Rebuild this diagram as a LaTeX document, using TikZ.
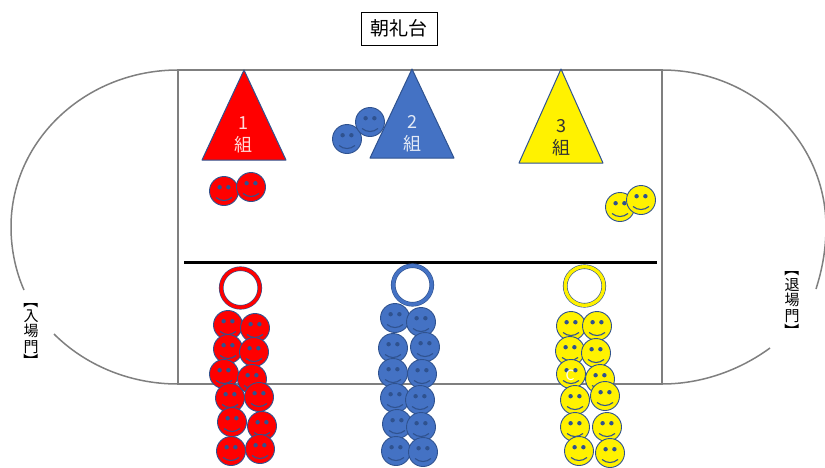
\documentclass[tikz,border=0pt]{standalone}
\usepackage{fontspec}
\setmainfont{Noto Sans CJK JP}
\usetikzlibrary{positioning}
\definecolor{facerblue}{HTML}{4472C4}
\definecolor{edgeblue}{HTML}{2F528F}
\definecolor{trackgray}{HTML}{7F7F7F}
\tikzset{
    track/.style={draw=trackgray, line width=1.5pt},
    flag/.style={draw=edgeblue, line width=1pt, line join=round},
    flagtext/.style={align=center, font=\fontsize{18}{18}\selectfont, inner sep=0pt},
    ringmark/.style={draw=edgeblue, fill=white, line width=0.6pt, double distance=3.4pt, minimum size=38.6pt, circle, inner sep=0pt},
    sidechar/.style={font=\fontsize{15}{15}\selectfont, inner sep=0pt},
    pics/smiley/.style={code={
        \draw[edgeblue, line width=0.9pt, fill=#1] (0,0) circle (14.5);
        \fill[edgeblue] (-4.4,-3.8) circle (2.2) (4.4,-3.8) circle (2.2);
        \draw[edgeblue, line width=1.1pt] (-8,6.5) .. controls (-3,10.5) and (3,10.5) .. (8,6.5);
    }}
}
\begin{document}
\begin{tikzpicture}[x=1pt, y=-1pt]
    \useasboundingbox (0,0) rectangle (825,467);
    \node[draw, line width=0.7pt, minimum width=76pt, minimum height=33pt, inner sep=0pt, font=\fontsize{19}{19}\selectfont] (stage) at (399,28.5) {朝礼台};

    % track
    \draw[track] (178,70) rectangle (662,384);
    \draw[track] (178,70) .. controls (86,70) and (11,140) .. (11,227) .. controls (11,250) and (16,272) .. (24,290);
    \draw[track] (54,334) .. controls (84,364) and (128,384) .. (178,384);
    \draw[track] (662,70) .. controls (752,70) and (826,140) .. (826,227) .. controls (826,250) and (822,270) .. (816,289);
    \draw[track] (770,348) .. controls (740,370) and (702,384) .. (662,384);
    \draw[line width=3pt] (184,262) -- (657,262);

    % waiting pupils
    \foreach \px/\py in {224/191, 251/187}
        \pic at (\px,\py) {smiley=red};
    \foreach \px/\py in {347/139, 370/122}
        \pic at (\px,\py) {smiley=facerblue};
    \foreach \px/\py in {620/207, 641/200}
        \pic at (\px,\py) {smiley=yellow};

    % flags
    \draw[flag, fill=red] (244,70) -- (286,160) -- (202,160) -- cycle;
    \draw[flag, fill=facerblue] (412,69) -- (454,158) -- (370,158) -- cycle;
    \draw[flag, fill=yellow] (561,69) -- (603,163) -- (519,163) -- cycle;
    \node[flagtext, text=white!85!red] (flagA) at (243.5,135) {1\\[4pt]組};
    \node[flagtext, text=white!85!facerblue] (flagB) at (412.5,134) {2\\[4pt]組};
    \node[flagtext, text=black!80] (flagC) at (561.5,138) {3\\[4pt]組};

    % rows
    \foreach \px/\py in {228/325, 255/328, 228/349, 254/352, 224/374, 252/379, 230/398, 259/397, 232/422, 262/426, 231/451, 260/449}
        \pic at (\px,\py) {smiley=red};
    \foreach \px/\py in {395/318, 421/322, 393/348, 425/347, 393/373, 422/374, 395/398, 420/400, 397/424, 421/427, 396/451, 423/452}
        \pic at (\px,\py) {smiley=facerblue};
    \foreach \px/\py in {571/326, 597/326, 570/351, 596/353, 571/374, 600/379, 575/400, 605/396, 575/427, 607/427, 579/451, 610/453}
        \pic at (\px,\py) {smiley=yellow};
    \node[text=white, inner sep=0pt, font=\fontsize{14}{14}\selectfont] (stray) at (570,375) {C};

    \node[ringmark, double=red] (ringA) at (240.5,288) {};
    \node[ringmark, double=facerblue] (ringB) at (412.5,285) {};
    \node[ringmark, double=yellow] (ringC) at (584.5,286) {};

    % gate labels
    \node[sidechar, rotate=-90] (inA) at (31,301) {【};
    \node[sidechar] (inB) at (31,316) {入};
    \node[sidechar] (inC) at (31,331) {場};
    \node[sidechar] (inD) at (31,347) {門};
    \node[sidechar, rotate=-90] (inE) at (31,361) {】};
    \node[sidechar, rotate=-90] (outA) at (792,269) {【};
    \node[sidechar] (outB) at (792,285) {退};
    \node[sidechar] (outC) at (792,300) {場};
    \node[sidechar] (outD) at (792,316) {門};
    \node[sidechar, rotate=-90] (outE) at (792,331) {】};
\end{tikzpicture}
\end{document}
